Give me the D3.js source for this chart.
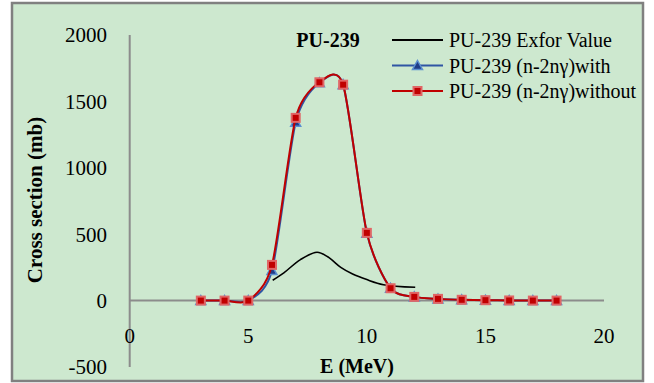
<!DOCTYPE html>
<html lang="en">
<head>
    <meta charset="UTF-8">
    <title>PU-239 cross section</title>
    <script src="https://d3js.org/d3.v7.min.js"></script>
    <style>
        body{ margin:0; background:white; }
        text{ font-family:"Liberation Serif","Times New Roman",serif; fill:black; }
        .tick{ font-size:20px; }
        .ytick{ font-size:21px; }
        .bold{ font-weight:bold; }
        .axisline{ stroke:#8c8c8c; stroke-width:2; }
    </style>
</head>
<body>
    <script>
        // E (MeV) for the two calculated series
        var energies = [3, 4, 5, 6, 7, 8, 9, 10, 11, 12, 13, 14, 15, 16, 17, 18];
        var withVals = [0, 0, 0, 226, 1343, 1640, 1626, 508, 93, 28, 12, 6, 3, 1, 0, 0];
        var withoutVals = [0, 0, 0, 269, 1376, 1644, 1626, 510, 93, 28, 13, 6, 3, 1, 0, 0];
        // Exfor curve
        var exforE = [6.03, 6.5, 7.2, 7.9, 8.35, 8.9, 9.4, 10.0, 10.7, 12.04];
        var exforVals = [153, 209, 309, 364, 330, 250, 200, 158, 120, 100];
        var xTicks = [0, 5, 10, 15, 20];
        var yTicks = [-500, 0, 500, 1000, 1500, 2000];
        var legendNames = ["PU-239 Exfor Value", "PU-239 (n-2n\u03b3)with", "PU-239 (n-2n\u03b3)without"];

        var svg = d3.select("body").append("svg")
                    .attr("width", 654).attr("height", 383);

        svg.append("rect")
           .attr("x", 12).attr("y", 3).attr("width", 631).attr("height", 378)
           .attr("fill", "#cde8cf").attr("stroke", "#808080").attr("stroke-width", 2.5);

        var x = d3.scaleLinear().domain([0, 20]).range([129.7, 604]);
        var y = d3.scaleLinear().domain([-500, 2000]).range([367, 35]);

        // axes
        svg.append("line").attr("class", "axisline")
           .attr("x1", x(0)).attr("x2", x(0)).attr("y1", y(2000)).attr("y2", y(-500));
        svg.append("line").attr("class", "axisline")
           .attr("x1", x(0)).attr("x2", x(20)).attr("y1", y(0)).attr("y2", y(0));

        svg.append("g").selectAll("text").data(yTicks).enter().append("text")
           .attr("class", "ytick")
           .attr("x", 107).attr("y", function(d){ return y(d); })
           .attr("dy", "0.35em").attr("text-anchor", "end")
           .text(function(d){ return d; });

        svg.append("g").selectAll("text").data(xTicks).enter().append("text")
           .attr("class", "ytick")
           .attr("x", function(d){ return x(d); }).attr("y", 336)
           .attr("dy", "0.35em").attr("text-anchor", "middle")
           .text(function(d){ return d; });

        svg.append("text").attr("class", "bold")
           .attr("x", 357).attr("y", 366).attr("dy", "0.35em")
           .attr("text-anchor", "middle").style("font-size", "20px")
           .text("E (MeV)");

        svg.append("text").attr("class", "bold")
           .attr("transform", "translate(35,200) rotate(-90)")
           .attr("dy", "0.35em").attr("text-anchor", "middle").style("font-size", "21px")
           .text("Cross section (mb)");

        svg.append("text").attr("class", "bold")
           .attr("x", 328).attr("y", 40).attr("dy", "0.35em")
           .attr("text-anchor", "middle").style("font-size", "20px")
           .text("PU-239");

        var smooth = d3.line().curve(d3.curveCardinal.tension(0.25));

        // exfor
        svg.append("path")
           .attr("d", d3.line().curve(d3.curveCatmullRom.alpha(0.5))(exforE.map(function(e, i){ return [x(e), y(exforVals[i])]; })))
           .attr("fill", "none").attr("stroke", "black").attr("stroke-width", 1.6);

        // with (blue)
        var withPts = energies.map(function(e, i){ return [x(e), y(withVals[i])]; });
        svg.append("path").attr("d", smooth(withPts))
           .attr("fill", "none").attr("stroke", "#2f55a4").attr("stroke-width", 2);

        function triangle(cx, cy){
            return "M" + cx + "," + (cy - 5) + " L" + (cx + 5) + "," + (cy + 4) + " L" + (cx - 5) + "," + (cy + 4) + " Z";
        }
        svg.append("g").selectAll("path").data(withPts).enter().append("path")
           .attr("d", function(d){ return triangle(d[0], d[1]); })
           .attr("fill", "#1f3c88").attr("stroke", "#5b8fd0").attr("stroke-width", 1.5);

        // without (red)
        var withoutPts = energies.map(function(e, i){ return [x(e), y(withoutVals[i])]; });
        svg.append("path").attr("d", smooth(withoutPts))
           .attr("fill", "none").attr("stroke", "#c00000").attr("stroke-width", 2);

        svg.append("g").selectAll("rect").data(withoutPts).enter().append("rect")
           .attr("x", function(d){ return d[0] - 4; }).attr("y", function(d){ return d[1] - 4; })
           .attr("width", 8).attr("height", 8)
           .attr("fill", "#c00000").attr("stroke", "#e06666").attr("stroke-width", 2);

        // legend
        var legendY = [40, 65.5, 91];
        var legendColors = ["black", "#2f55a4", "#c00000"];
        var legend = svg.append("g");
        legendNames.forEach(function(name, i){
            legend.append("line")
                  .attr("x1", 392).attr("x2", 443).attr("y1", legendY[i]).attr("y2", legendY[i])
                  .attr("stroke", legendColors[i]).attr("stroke-width", 2);
            legend.append("text").attr("class", "tick")
                  .attr("x", 449).attr("y", legendY[i]).attr("dy", "0.35em")
                  .text(name);
        });
        legend.append("path").attr("d", triangle(417.5, legendY[1]))
              .attr("fill", "#1f3c88").attr("stroke", "#5b8fd0").attr("stroke-width", 1.5);
        legend.append("rect").attr("x", 413.5).attr("y", legendY[2] - 4)
              .attr("width", 8).attr("height", 8)
              .attr("fill", "#c00000").attr("stroke", "#e06666").attr("stroke-width", 2);
    </script>
</body>
</html>
